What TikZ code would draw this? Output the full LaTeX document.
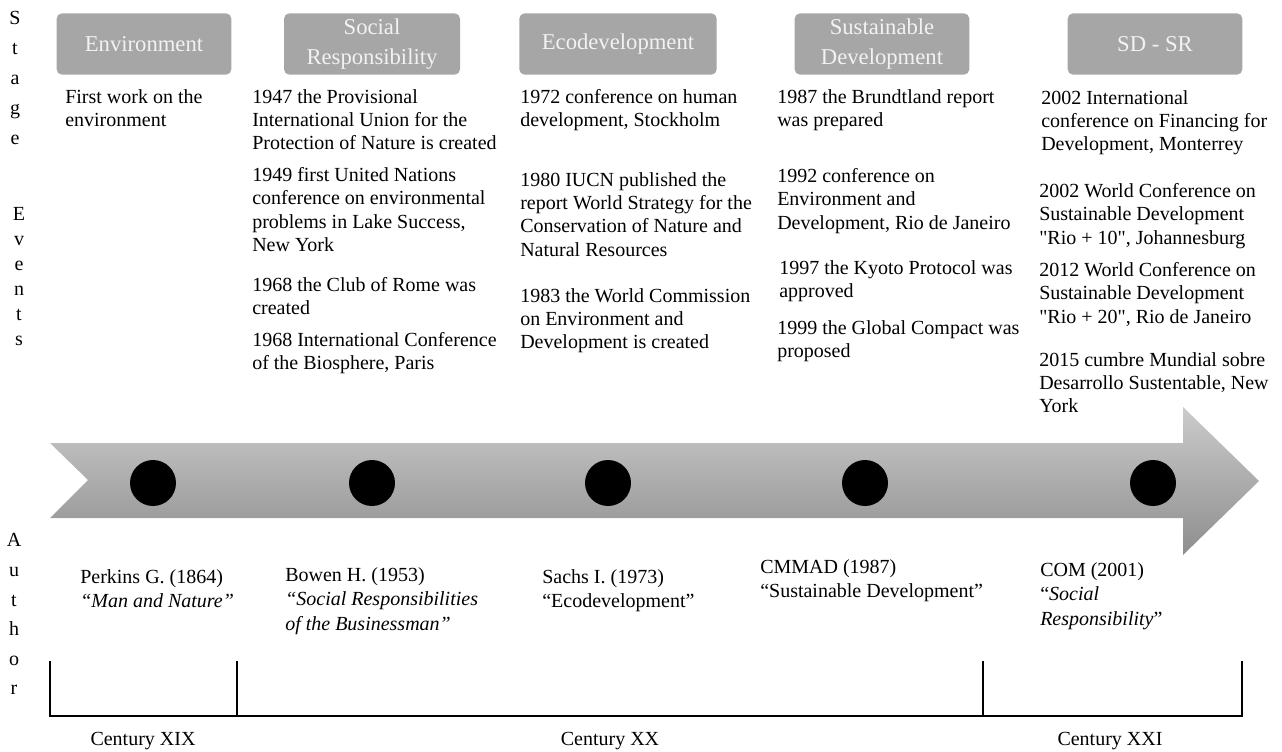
\documentclass[tikz,border=0pt]{standalone}
\usepackage{fontspec}
\setmainfont{Liberation Serif}[Ligatures=TeXOff]

\definecolor{stagegray}{HTML}{A6A6A6}
\definecolor{stagetext}{HTML}{F2F2F2}
\definecolor{arrowlight}{HTML}{CBCBCB}
\definecolor{arrowdark}{HTML}{8E8E8E}

\begin{document}
\begin{tikzpicture}[x=0.75pt, y=-0.75pt,
        stage/.style={rectangle, rounded corners=4pt, fill=stagegray, text=stagetext,
            minimum height=46pt, align=center, font=\fontsize{17}{22}\selectfont},
        event/.style={anchor=north west, inner sep=0pt, align=left, font=\fontsize{15}{17.5}\selectfont},
        author/.style={anchor=north west, inner sep=0pt, align=left, font=\fontsize{15}{18.5}\selectfont},
        vword/.style={anchor=north, inner sep=0pt, align=center},
        dot/.style={circle, fill=black, minimum size=34.5pt, inner sep=0pt},
        century/.style={line width=1.5pt},
        period/.style={anchor=base, inner sep=0pt, font=\fontsize{15}{18}\selectfont}]
        \useasboundingbox (0, 0) rectangle (1282, 752);

        % row titles, one letter per line
        \node[vword, font=\fontsize{15}{22.5}\selectfont] (stage) at (15, 10.5) {S\\t\\a\\g\\e};
        \node[vword, font=\fontsize{15}{18.75}\selectfont] (events) at (19, 207.5) {E\\v\\e\\n\\t\\s};
        \node[vword, font=\fontsize{15}{22.2}\selectfont] (author) at (14, 533.5) {A\\u\\t\\h\\o\\r};

        % stages
        \node[stage, minimum width=131pt] (s1) at (144, 44) {Environment};
        \node[stage, minimum width=132pt] (s2) at (372, 44) {Social\\Responsibility};
        \node[stage, minimum width=148pt] (s3) at (618, 44) {Ecodevelopment};
        \node[stage, minimum width=131pt] (s4) at (882, 44) {Sustainable\\Development};
        \node[stage, minimum width=131pt] (s5) at (1155, 44) {SD - SR};

        % events
        \node[event] (e11) at (65, 89) {First work on the\\environment};

        \node[event] (e21) at (252, 89) {1947 the Provisional\\International Union for the\\Protection of Nature is created};
        \node[event] (e22) at (252, 167) {1949 first United Nations\\conference on environmental\\problems in Lake Success,\\New York};
        \node[event] (e23) at (252, 277) {1968 the Club of Rome was\\created};
        \node[event] (e24) at (252, 332) {1968 International Conference\\of the Biosphere, Paris};

        \node[event] (e31) at (520, 89) {1972 conference on human\\development, Stockholm};
        \node[event] (e32) at (520, 172) {1980 IUCN published the\\report World Strategy for the\\Conservation of Nature and\\Natural Resources};
        \node[event] (e33) at (520, 288) {1983 the World Commission\\on Environment and\\Development is created};

        \node[event] (e41) at (777, 89) {1987 the Brundtland report\\was prepared};
        \node[event] (e42) at (777, 168) {1992 conference on\\Environment and\\Development, Rio de Janeiro};
        \node[event] (e43) at (779, 260) {1997 the Kyoto Protocol was\\approved};
        \node[event] (e44) at (777, 320) {1999 the Global Compact was\\proposed};

        \node[event] (e51) at (1041, 90) {2002 International\\conference on Financing for\\Development, Monterrey};
        \node[event] (e52) at (1039, 183) {2002 World Conference on\\Sustainable Development\\"Rio + 10", Johannesburg};
        \node[event] (e53) at (1039, 262) {2012 World Conference on\\Sustainable Development\\"Rio + 20", Rio de Janeiro};
        \node[event] (e54) at (1039, 352) {2015 cumbre Mundial sobre\\Desarrollo Sustentable, New\\York};

        % timeline arrow
        \shade[top color=arrowlight, bottom color=arrowdark]
            (50, 443) -- (1183, 443) -- (1183, 407) -- (1259, 481) -- (1183, 555)
            -- (1183, 518) -- (50, 518) -- (88, 480) -- cycle;

        \node[dot] (d1) at (153, 483) {};
        \node[dot] (d2) at (372, 483) {};
        \node[dot] (d3) at (608, 483) {};
        \node[dot] (d4) at (865, 483) {};
        \node[dot] (d5) at (1153, 483) {};

        % authors
        \node[author] (a1) at (80, 569) {Perkins G. (1864)\\\textit{“Man and Nature”}};
        \node[author] (a2) at (285, 567) {Bowen H. (1953)\\\textit{“Social Responsibilities}\\\textit{of the Businessman”}};
        \node[author] (a3) at (542, 569) {Sachs I. (1973)\\“Ecodevelopment”};
        \node[author] (a4) at (760, 559) {CMMAD (1987)\\“Sustainable Development”};
        \node[author] (a5) at (1040, 562) {COM (2001)\\“\textit{Social}\\\textit{Responsibility}”};

        % centuries
        \coordinate (c0) at (50, 661);
        \coordinate (c1) at (237, 661);
        \coordinate (c2) at (983, 661);
        \coordinate (c3) at (1242, 661);
        \draw[century] (c0) -- (c0 |- 0, 716) -- (c3 |- 0, 716) -- (c3);
        \draw[century] (c1) -- (c1 |- 0, 716);
        \draw[century] (c2) -- (c2 |- 0, 716);

        \node[period] (p1) at (143, 745) {Century XIX};
        \node[period] (p2) at (610, 745) {Century XX};
        \node[period] (p3) at (1110, 745) {Century XXI};
\end{tikzpicture}
\end{document}
